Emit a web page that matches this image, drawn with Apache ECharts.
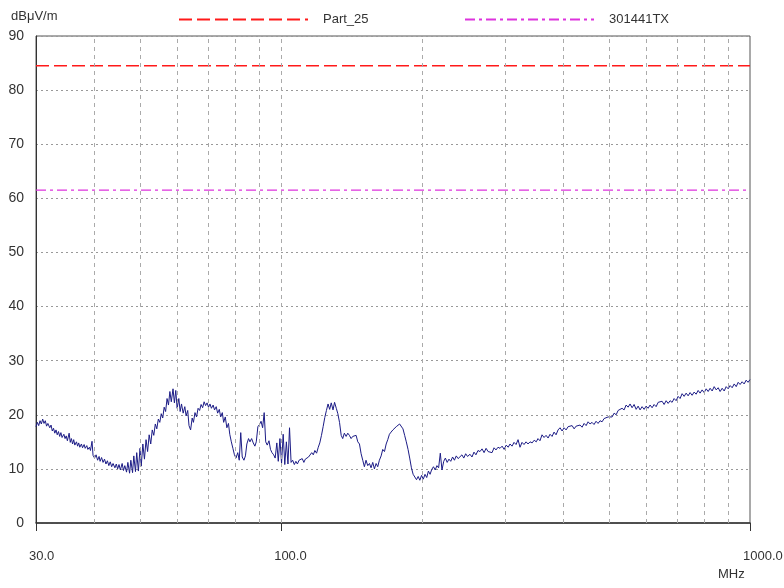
<!DOCTYPE html>
<html>
<head>
<meta charset="utf-8">
<title>Radiated emission</title>
<script src="https://cdn.jsdelivr.net/npm/echarts@6/dist/echarts.min.js"></script>
<style>
  html, body { margin: 0; padding: 0; background: #fff; }
  #chart { width: 784px; height: 588px; }
</style>
</head>
<body>
<div id="chart"></div>
<script>
// limit lines, dBuV/m
const part25Level = 84.5
const tx301441Level = 61.5
const freqRange = [30, 1000]
const levelTicks = [0, 10, 20, 30, 40, 50, 60, 70, 80, 90]
const gridFreqs = [40, 50, 60, 70, 80, 90, 100, 200, 300, 400, 500, 600, 700, 800, 900]

const trace = [
  [30.0, 17.8], [30.2, 18.6], [30.4, 18.0], [30.6, 18.9], [30.8, 18.3], [31.0, 19.2], [31.2, 18.4], [31.4, 18.9],
  [31.6, 17.9], [31.8, 18.4], [32.1, 17.6], [32.3, 18.1], [32.5, 17.0], [32.7, 17.5], [32.9, 16.6], [33.1, 17.2],
  [33.3, 16.3], [33.5, 16.9], [33.7, 16.0], [33.9, 16.7], [34.1, 15.8], [34.4, 16.4], [34.6, 15.6], [34.8, 16.1],
  [35.0, 15.2], [35.3, 16.6], [35.5, 14.9], [35.7, 15.6], [35.9, 14.6], [36.1, 15.4], [36.3, 14.4], [36.6, 15.0],
  [36.8, 14.2], [37.0, 14.8], [37.2, 14.0], [37.5, 14.6], [37.7, 13.9], [38.0, 14.5], [38.2, 13.8], [38.5, 14.3],
  [38.7, 13.6], [39.0, 14.0], [39.2, 13.4], [39.5, 15.1], [39.7, 12.5], [40.0, 12.0], [40.3, 12.6], [40.6, 11.6],
  [40.9, 12.3], [41.1, 11.4], [41.4, 12.1], [41.7, 11.2], [42.0, 11.8], [42.3, 10.9], [42.6, 11.5], [42.9, 10.6],
  [43.2, 11.3], [43.5, 10.4], [43.8, 11.0], [44.2, 10.2], [44.5, 10.9], [44.8, 10.0], [45.1, 10.8], [45.4, 9.8],
  [45.8, 11.0], [46.1, 9.7], [46.4, 10.6], [46.8, 9.4], [47.1, 11.2], [47.5, 9.2], [47.8, 11.6], [48.2, 9.3],
  [48.5, 12.4], [48.9, 9.5], [49.2, 13.0], [49.6, 9.6], [50.0, 13.8], [50.3, 10.5], [50.7, 14.6], [51.1, 11.8],
  [51.5, 15.4], [51.9, 13.2], [52.3, 16.3], [52.7, 14.6], [53.1, 17.2], [53.5, 16.2], [53.9, 18.3], [54.3, 17.4],
  [54.7, 19.2], [55.1, 18.6], [55.5, 20.2], [55.9, 19.4], [56.3, 21.4], [56.7, 20.6], [57.1, 23.0], [57.5, 21.8],
  [57.9, 24.3], [58.3, 22.4], [58.8, 24.8], [59.2, 22.2], [59.6, 24.5], [60.0, 21.2], [60.5, 23.0], [60.9, 20.6],
  [61.3, 22.0], [61.8, 20.3], [62.3, 21.5], [62.7, 19.8], [63.2, 20.8], [63.6, 18.0], [64.1, 17.2], [64.6, 19.4],
  [65.0, 18.6], [65.5, 20.4], [66.0, 19.6], [66.5, 21.2], [67.0, 20.8], [67.5, 21.9], [68.0, 21.3], [68.5, 22.4],
  [69.0, 21.7], [69.5, 22.2], [70.0, 21.4], [70.5, 22.0], [71.0, 21.2], [71.6, 21.8], [72.1, 20.9], [72.7, 21.5],
  [73.2, 20.3], [73.8, 21.0], [74.3, 19.6], [74.9, 20.4], [75.4, 18.6], [76.0, 19.6], [76.6, 17.6], [77.2, 18.4],
  [77.7, 16.4], [78.3, 15.0], [78.9, 13.8], [79.5, 12.6], [80.1, 12.0], [80.8, 13.0], [81.4, 11.6], [82.0, 16.7],
  [82.6, 12.2], [83.3, 11.6], [83.9, 12.4], [84.5, 14.6], [85.2, 15.6], [85.8, 15.0], [86.5, 15.6], [87.2, 14.8],
  [87.9, 14.2], [88.5, 15.0], [89.2, 17.8], [89.9, 18.2], [90.6, 18.8], [91.3, 17.6], [92.0, 20.4], [92.7, 15.0],
  [93.4, 14.4], [94.2, 15.2], [94.9, 13.6], [95.6, 13.0], [96.4, 12.6], [97.1, 12.0], [97.9, 14.8], [98.6, 11.4],
  [99.4, 15.6], [100.2, 11.0], [101.0, 16.4], [101.8, 10.8], [102.6, 15.0], [103.4, 10.9], [104.2, 17.6], [105.0, 11.2],
  [105.8, 11.6], [106.7, 10.8], [107.5, 11.4], [108.3, 10.9], [109.2, 11.6], [110.0, 11.3], [110.9, 11.9], [111.8, 11.2],
  [112.6, 11.8], [113.5, 11.6], [114.4, 12.2], [115.3, 12.0], [116.2, 13.0], [117.1, 12.6], [118.0, 13.4], [119.0, 12.9],
  [120.0, 14.0], [120.9, 14.8], [121.9, 16.2], [122.9, 17.8], [123.9, 19.5], [124.9, 20.8], [125.9, 22.0], [126.9, 21.0],
  [127.9, 22.2], [129.0, 20.9], [130.0, 22.3], [131.1, 21.2], [132.1, 20.2], [133.2, 18.6], [134.3, 16.2], [135.3, 15.6],
  [136.4, 16.6], [137.6, 16.0], [138.7, 16.6], [139.8, 16.2], [141.0, 15.6], [142.1, 16.0], [143.3, 15.8], [144.5, 16.2],
  [145.7, 15.0], [146.9, 14.6], [148.1, 12.8], [149.3, 11.6], [150.5, 10.4], [151.7, 11.6], [153.0, 10.6], [154.3, 11.0],
  [155.5, 10.2], [156.8, 11.2], [158.1, 10.0], [159.4, 11.0], [160.7, 10.4], [162.0, 11.6], [163.4, 12.4], [164.7, 13.6],
  [166.1, 13.2], [167.5, 14.6], [168.8, 15.4], [170.2, 16.4], [171.6, 16.8], [173.1, 17.2], [174.5, 17.4], [176.0, 17.8],
  [177.4, 17.9], [178.9, 18.3], [180.4, 18.0], [181.9, 17.4], [183.4, 16.2], [184.9, 15.0], [186.5, 13.6], [188.0, 12.0],
  [189.6, 10.2], [191.2, 9.0], [192.8, 8.5], [194.4, 8.0], [196.0, 8.6], [197.6, 7.9], [199.3, 8.8], [201.0, 8.1],
  [202.7, 9.0], [204.4, 8.4], [206.1, 9.6], [207.8, 9.0], [209.5, 9.9], [211.3, 10.4], [213.1, 9.8], [214.9, 10.6],
  [216.7, 10.2], [218.5, 12.9], [220.3, 9.8], [222.2, 11.4], [224.0, 12.0], [226.0, 11.2], [228.0, 11.8], [230.0, 11.4],
  [232.1, 12.2], [234.2, 11.6], [236.3, 12.4], [238.5, 11.9], [240.7, 12.1], [243.0, 12.6], [245.2, 12.0], [247.5, 12.8],
  [249.8, 12.3], [252.8, 12.7], [255.3, 12.2], [257.8, 13.1], [260.3, 12.6], [262.9, 13.4], [265.5, 13.2], [268.2, 13.7],
  [270.9, 13.0], [273.6, 13.8], [276.3, 13.2], [278.9, 13.4], [281.7, 13.0], [284.5, 13.9], [287.2, 13.5], [290.1, 14.0],
  [293.0, 13.8], [296.0, 14.2], [299.0, 13.6], [302.0, 14.4], [305.0, 14.0], [307.7, 14.6], [310.8, 14.2], [313.8, 14.9],
  [317.0, 14.5], [320.1, 15.4], [323.2, 14.0], [326.4, 14.9], [329.6, 14.5], [332.9, 15.0], [336.2, 14.6], [339.5, 15.0],
  [343.0, 14.8], [346.5, 15.3], [350.0, 15.0], [353.0, 15.6], [356.5, 15.2], [360.1, 16.3], [363.7, 15.8], [367.3, 16.2],
  [371.0, 15.7], [374.5, 16.4], [378.3, 16.0], [382.0, 16.8], [385.8, 16.3], [389.6, 17.2], [393.4, 17.6], [397.4, 17.0],
  [401.3, 17.6], [405.3, 17.2], [409.3, 17.8], [413.2, 17.5], [417.4, 18.0], [421.6, 17.4], [425.7, 17.9], [429.9, 17.6],
  [434.0, 18.1], [438.4, 17.7], [442.8, 18.4], [447.2, 18.0], [451.5, 18.7], [455.8, 18.3], [460.3, 18.6], [464.9, 18.2],
  [469.5, 18.8], [474.2, 18.4], [478.8, 18.9], [483.6, 18.7], [488.4, 19.3], [493.2, 19.1], [498.1, 19.6], [502.9, 19.9],
  [508.0, 19.6], [513.1, 20.3], [518.2, 20.0], [523.3, 20.8], [528.2, 20.5], [533.5, 21.2], [538.8, 20.9], [544.2, 21.8],
  [549.6, 21.4], [554.9, 22.0], [560.4, 21.3], [566.0, 21.9], [571.7, 21.0], [577.3, 21.6], [582.8, 20.9], [588.6, 21.5],
  [594.5, 21.0], [600.4, 21.6], [606.3, 21.2], [612.2, 21.8], [618.3, 21.3], [624.4, 21.9], [630.6, 21.5], [637.0, 22.3],
  [643.0, 22.0], [649.4, 22.5], [655.9, 21.9], [662.4, 22.6], [669.0, 22.1], [675.4, 22.6], [682.1, 22.3], [688.9, 23.0],
  [695.7, 22.6], [702.6, 23.4], [709.4, 23.0], [716.5, 23.9], [723.6, 23.4], [730.8, 24.0], [738.0, 23.5], [745.1, 24.1],
  [752.6, 23.6], [760.1, 24.2], [767.6, 23.8], [775.2, 24.5], [782.6, 24.0], [790.5, 24.6], [798.4, 24.1], [806.3, 24.8],
  [814.3, 24.3], [822.1, 24.9], [830.4, 24.4], [838.7, 25.2], [847.0, 24.6], [855.4, 25.0], [863.5, 24.3], [872.2, 24.9],
  [880.9, 24.4], [889.6, 25.2], [898.4, 24.8], [907.0, 25.4], [916.1, 25.0], [925.3, 25.7], [934.5, 25.2], [943.6, 26.0],
  [952.6, 25.6], [962.1, 26.1], [971.7, 25.7], [981.3, 26.4], [990.6, 26.0], [1000, 26.5]
]

const FONT = '"Liberation Sans Narrow", "Liberation Sans", Arial, sans-serif'
const TEXT = '#333'
const FS = 13

const chart = echarts.init(document.getElementById('chart'))

const legendBase = {
  top: 13,
  itemWidth: 129,
  itemHeight: 14,
  padding: 0,
  itemStyle: { opacity: 0 },
  textStyle: { fontSize: FS, color: TEXT, fontFamily: FONT, padding: [3, 0, 0, 10] }
}

chart.setOption({
  animation: false,
  backgroundColor: '#fff',
  textStyle: { fontFamily: FONT },
  grid: {
    left: 36,
    right: 34,
    top: 36,
    bottom: 65,
    outerBoundsMode: 'none',
    containLabel: false,
    show: true,
    borderColor: '#555',
    borderWidth: 1
  },
  legend: [
    Object.assign({ data: ['Part_25'], left: 178 }, legendBase),
    Object.assign({ data: ['301441TX'], left: 464 }, legendBase)
  ],
  xAxis: {
    type: 'log',
    logBase: 10,
    min: freqRange[0],
    max: freqRange[1],
    axisLine: { show: true, lineStyle: { color: TEXT, width: 1.5 } },
    axisTick: { show: true, length: 8, lineStyle: { color: TEXT } },
    splitLine: { show: false },
    axisLabel: {
      showMinLabel: true,
      showMaxLabel: true,
      margin: 27,
      align: 'left',
      padding: [0, 0, 0, -7],
      fontSize: FS,
      color: TEXT,
      fontFamily: FONT,
      formatter: (v) => Number(v).toFixed(1)
    }
  },
  yAxis: {
    type: 'value',
    min: levelTicks[0],
    max: levelTicks[levelTicks.length - 1],
    interval: 10,
    axisLine: { show: true, lineStyle: { color: TEXT, width: 1 } },
    axisTick: { show: false },
    splitLine: { show: true, lineStyle: { color: '#999', type: [2, 3], width: 1 } },
    axisLabel: { margin: 12, fontSize: FS + 1, color: TEXT, fontFamily: FONT }
  },
  graphic: [
    { type: 'text', left: 11, top: 10, style: { text: 'dBμV/m', fontSize: FS, fill: TEXT, fontFamily: FONT } },
    { type: 'text', left: 718, top: 568, style: { text: 'MHz', fontSize: FS, fill: TEXT, fontFamily: FONT } }
  ],
  series: [
    {
      name: 'grid',
      type: 'line',
      data: [],
      silent: true,
      markLine: {
        silent: true,
        symbol: 'none',
        label: { show: false },
        lineStyle: { color: '#aaa', type: [4, 4], width: 1 },
        data: gridFreqs.map((f) => ({ xAxis: f }))
      }
    },
    {
      name: 'Part_25',
      type: 'line',
      showSymbol: false,
      symbol: 'none',
      data: [[freqRange[0], part25Level], [freqRange[1], part25Level]],
      lineStyle: { color: '#ff1a1a', width: 1.5, type: [13, 5] },
      itemStyle: { color: '#ff1a1a' },
      z: 3
    },
    {
      name: '301441TX',
      type: 'line',
      showSymbol: false,
      symbol: 'none',
      data: [[freqRange[0], tx301441Level], [freqRange[1], tx301441Level]],
      lineStyle: { color: '#dd33dd', width: 1.2, type: [10, 4, 3, 4] },
      itemStyle: { color: '#dd33dd' },
      z: 3
    },
    {
      name: 'trace',
      type: 'line',
      showSymbol: false,
      symbol: 'none',
      data: trace,
      lineStyle: { color: '#1c1c86', width: 1 },
      z: 4
    }
  ]
})
</script>
</body>
</html>
